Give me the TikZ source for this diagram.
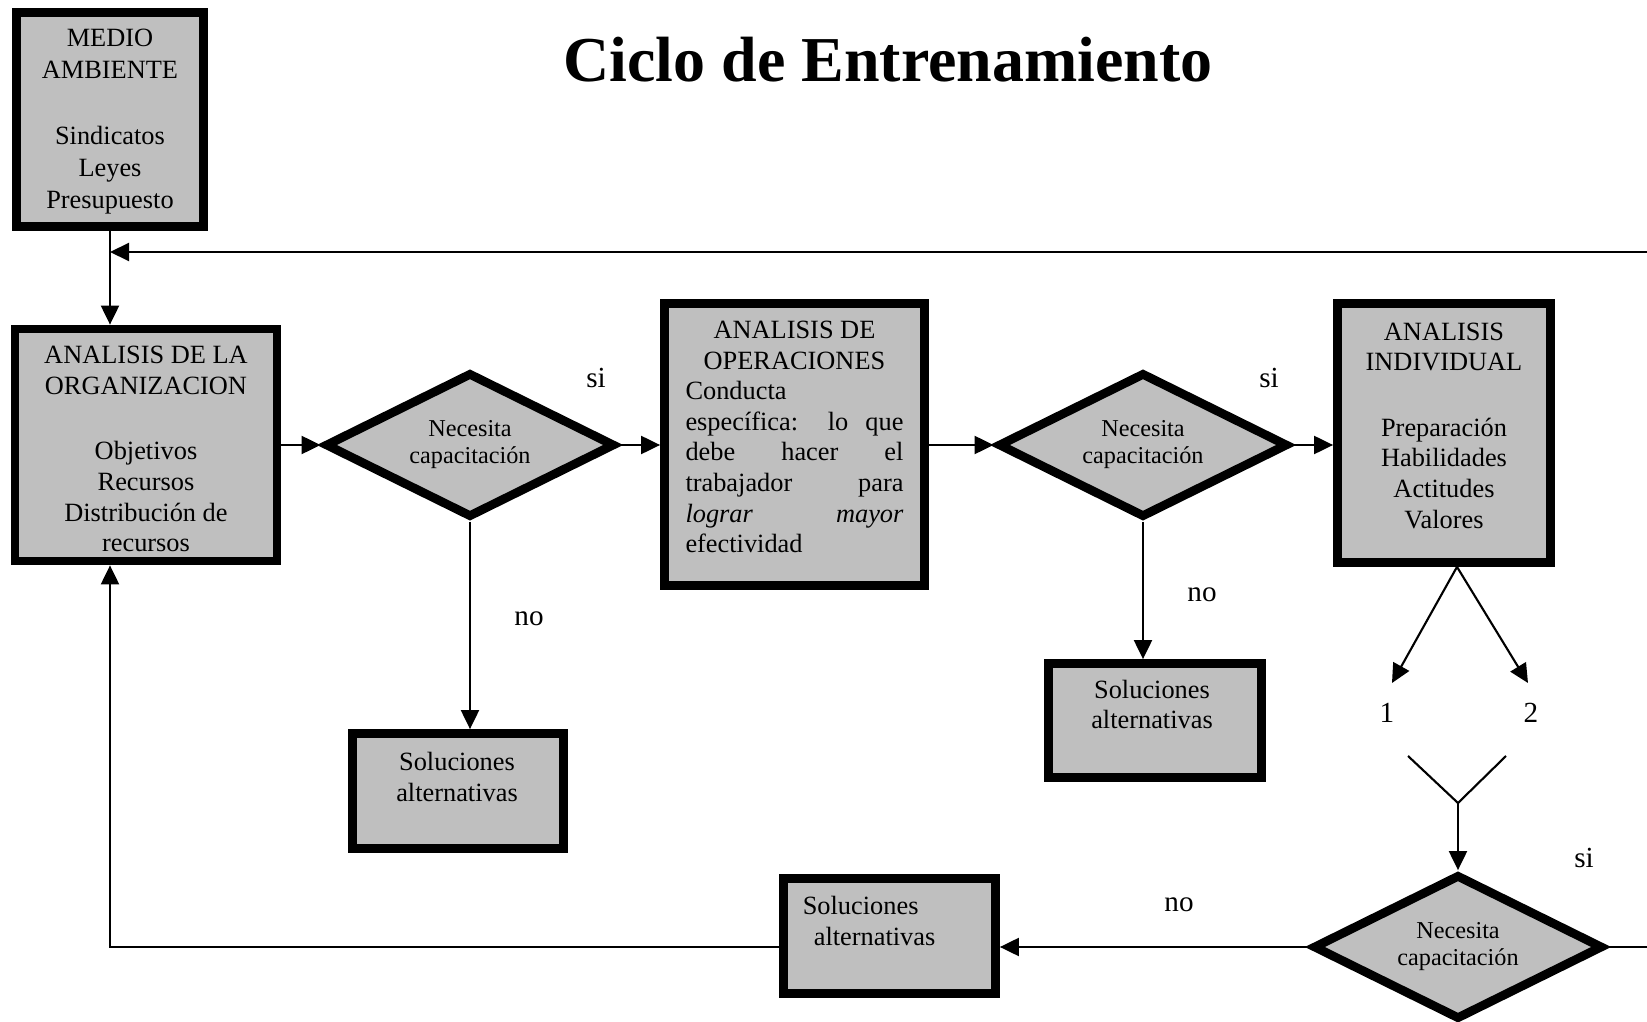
\documentclass[tikz,border=0pt]{standalone}
\usepackage{fontspec}
\setmainfont{Liberation Serif}
\usetikzlibrary{shapes.geometric,arrows.meta}

\newcommand{\lineaj}[1]{\makebox[2.18cm][s]{#1}}
\newcommand{\lineai}[1]{\makebox[2.18cm][l]{#1}}

\tikzset{
  caja/.style={draw, line width=2.5pt, fill=black!25, inner sep=0pt},
  rombo/.style={diamond, draw, line width=2.5pt, fill=black!25, aspect=2, inner sep=1pt,
    minimum width=2.9cm, minimum height=1.45cm, align=center, font=\fontsize{6.9}{7.7}\selectfont},
  texto/.style={inner sep=0pt, align=center, font=\fontsize{7.5}{8.7}\selectfont},
  etiqueta/.style={inner sep=0pt, font=\fontsize{8.3}{9}\selectfont},
  flecha/.style={-{Triangle[length=1.9mm,width=1.8mm]}, line width=0.6pt},
  linea/.style={line width=0.6pt}
}

\begin{document}
\begin{tikzpicture}
	\useasboundingbox (0,0) rectangle (16.47,10.21);
	%\draw[help lines] (0,0) grid (16,10);
	\node[font=\fontsize{18.2}{20}\selectfont\bfseries, anchor=base] (titulo) at (8.88,9.39) {Ciclo de Entrenamiento};

	% cajas
	\node[caja, minimum width=1.87cm, minimum height=2.14cm] (med) at (1.10,9.015) {};
	\node[texto, font=\fontsize{7.5}{9}\selectfont] (medt) at ([yshift=-0.02cm]med.center) {MEDIO\\AMBIENTE\\[10pt]Sindicatos\\Leyes\\Presupuesto};
	\node[caja, minimum width=2.62cm, minimum height=2.32cm] (org) at (1.46,5.76) {};
	\node[texto] (orgt) at ([yshift=-0.04cm]org.center) {ANALISIS DE LA\\ORGANIZACION\\[10pt]Objetivos\\Recursos\\Distribución de\\recursos};
	\node[caja, minimum width=2.60cm, minimum height=2.82cm] (ope) at (7.945,5.765) {};
	\node[texto] (opet) at ([yshift=0.075cm]ope.center) {ANALISIS DE\\OPERACIONES\\
		\lineai{Conducta}\\ \lineaj{específica: lo que}\\ \lineaj{debe hacer el}\\ \lineaj{trabajador para}\\
		\lineaj{\textit{lograr} \textit{mayor}}\\ \lineai{efectividad}};
	\node[caja, minimum width=2.13cm, minimum height=2.59cm] (ind) at (14.44,5.88) {};
	\node[texto] (indt) at ([yshift=0.075cm]ind.center) {ANALISIS\\INDIVIDUAL\\[10pt]Preparación\\Habilidades\\Actitudes\\Valores};

	% rombos
	\node[rombo] (d1) at (4.70,5.76) {Necesita\\capacitación};
	\node[rombo] (d2) at (11.43,5.76) {Necesita\\capacitación};
	\node[rombo] (d3) at (14.58,0.74) {Necesita\\capacitación};

	% soluciones alternativas
	\node[caja, minimum width=2.11cm, minimum height=1.15cm] (sol1) at (4.58,2.30) {};
	\node[texto] (sol1t) at ([xshift=-0.01cm, yshift=0.14cm]sol1.center) {Soluciones\\alternativas};
	\node[caja, minimum width=2.13cm, minimum height=1.14cm] (sol2) at (11.55,3.005) {};
	\node[texto] (sol2t) at ([xshift=-0.03cm, yshift=0.16cm]sol2.center) {Soluciones\\alternativas};
	\node[caja, minimum width=2.12cm, minimum height=1.15cm] (sol3) at (8.895,0.85) {};
	\node[texto, align=left, anchor=west] (sol3t) at ([xshift=0.23cm, yshift=0.15cm]sol3.west) {Soluciones\\\hspace{0.11cm}alternativas};

	% etiquetas
	\node[etiqueta] (si1) at (5.96,6.43) {si};
	\node[etiqueta] (si2) at (12.69,6.43) {si};
	\node[etiqueta] (si3) at (15.84,1.63) {si};
	\node[etiqueta] (no1) at (5.29,4.02) {no};
	\node[etiqueta] (no2) at (12.02,4.26) {no};
	\node[etiqueta] (no3) at (11.79,1.16) {no};
	\node[etiqueta] (n1) at (13.87,3.08) {1};
	\node[etiqueta] (n2) at (15.31,3.08) {2};

	\coordinate (fb) at (16.47,7.69);
	\coordinate (apex) at ([xshift=0.13cm]ind.south);
	\coordinate (t1) at (13.92,3.38);
	\coordinate (t2) at (15.28,3.38);
	\coordinate (y1) at (14.08,2.65);
	\coordinate (y2) at (15.06,2.65);
	\coordinate (yj) at (14.58,2.18);

	% conectores
	\draw[flecha] (fb) -- (fb -| med.south);
	\draw[flecha] (med.south) -- (med.south |- org.north);
	\draw[flecha] (org) -- (d1);
	\draw[flecha] (d1) -- (d1 -| ope.west);
	\draw[flecha] (d1.south) -- (d1.south |- sol1.north);
	\draw[flecha] (ope.east |- d2) -- (d2);
	\draw[flecha] (d2.south) -- (d2.south |- sol2.north);
	\draw[flecha] (d2.east) -- (d2.east -| ind.west);
	\draw[flecha] (apex) -- (t1);
	\draw[flecha] (apex) -- (t2);
	\draw[linea] (y1) -- (yj) -- (y2);
	\draw[flecha] (yj) -- (d3.north);
	\draw[linea] (d3.east) -- (d3.east -| fb);
	\draw[flecha] (d3.west) -- (d3.west -| sol3.east);
	\draw[flecha] (sol3.west |- d3.west) -| (med.south |- org.south);
\end{tikzpicture}
\end{document}
